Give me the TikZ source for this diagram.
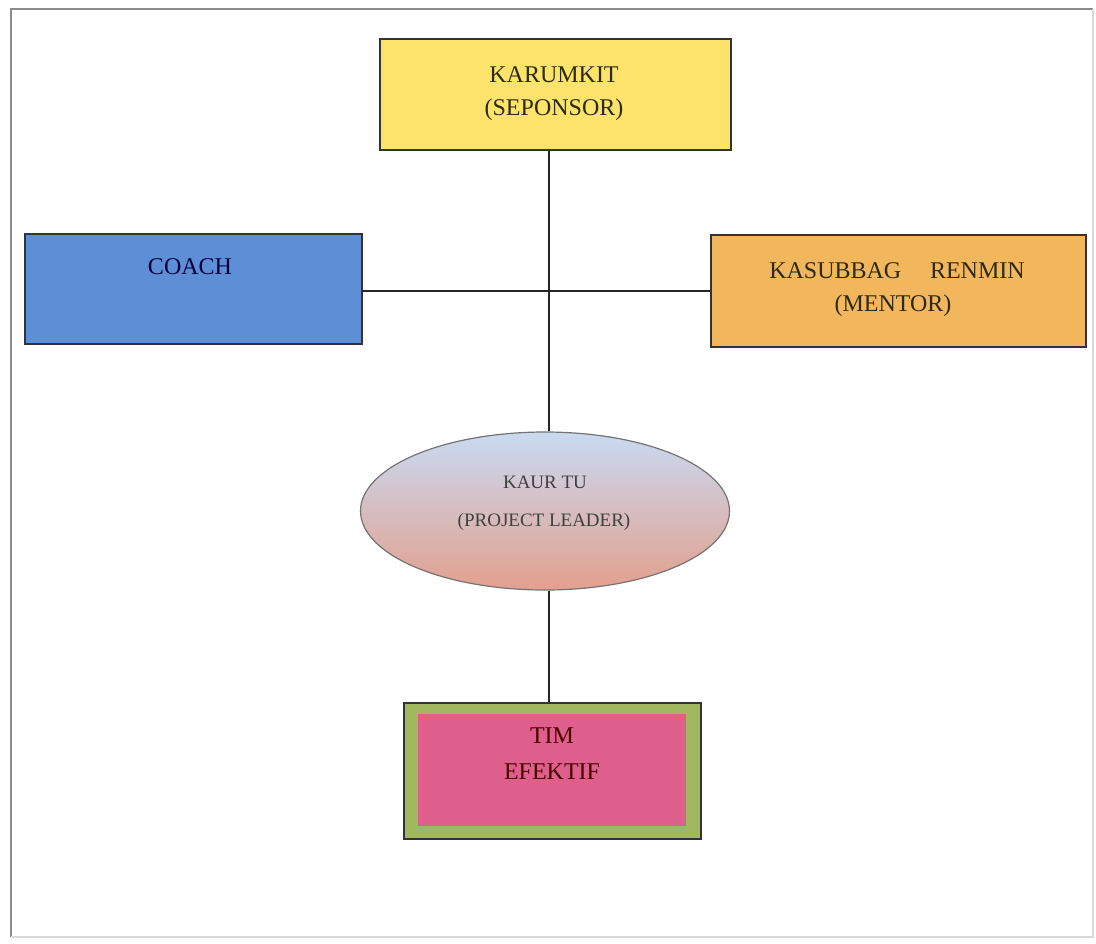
\documentclass[tikz,border=0pt]{standalone}
\usepackage{fontspec}
\setmainfont{Liberation Serif}
\usetikzlibrary{shapes.geometric}
\definecolor{yel}{HTML}{FBE36C}
\definecolor{blu}{HTML}{5E8FD6}
\definecolor{ora}{HTML}{F2B65C}
\definecolor{olv}{HTML}{A2B860}
\definecolor{pnk}{HTML}{DE5F8C}
\definecolor{etop}{HTML}{C9DAF2}
\definecolor{ebot}{HTML}{E3A08E}
\definecolor{txt}{HTML}{2E2A10}
\begin{document}
\begin{tikzpicture}[x=0.5pt,y=-0.5pt,
  box/.style={draw=black!80,line width=0.9pt,inner sep=0pt,anchor=north west},
  lbl/.style={font=\fontsize{12}{14}\selectfont,text=txt},
  conn/.style={draw=black!85,line width=1pt}]
\useasboundingbox (0,0) rectangle (1096,943);
\draw[black!45,line width=1pt] (11,937) -- (11,9) -- (1093,9);
\draw[black!15,line width=0.6pt] (1093,9) -- (1093,937) -- (11,937);
% boxes
\node[box,fill=yel,minimum width=175.5pt,minimum height=55.5pt] (top) at (379,38) {};
\node[lbl] (topt) at (554,75) {KARUMKIT};
\node[lbl] (topt2) at (554,110) {(SEPONSOR)};
\node[box,fill=blu,minimum width=168.5pt,minimum height=55pt] (coach) at (24,233) {};
\node[lbl,text=black!75!blue] (coacht) at (190,267) {COACH};
\node[box,fill=ora,minimum width=187.5pt,minimum height=56pt] (mentor) at (710,234) {};
\node[lbl] (mentort) at (897,271) {KASUBBAG\hspace{1.2em}RENMIN};
\node[lbl] (mentort2) at (893,306) {(MENTOR)};
\node[draw=black!55,line width=0.6pt,ellipse,minimum width=184.5pt,minimum height=79pt,
  top color=etop,bottom color=ebot,middle color=etop!50!ebot] (kaur) at (545,511) {};
\node[font=\fontsize{9.5}{11}\selectfont,text=black!75] (kaurt) at (545,482) {KAUR TU};
\node[font=\fontsize{9.5}{11}\selectfont,text=black!75] (kaurt2) at (544,522) {(PROJECT LEADER)};
\node[box,fill=olv,minimum width=148.5pt,minimum height=68pt] (tim) at (403,702) {};
\node[inner sep=0pt,anchor=north west,fill=pnk,minimum width=134pt,minimum height=56pt] (timin) at (418,714) {};
\node[lbl,text=black!60!red!70!black] (timt) at (552,736) {TIM};
\node[lbl,text=black!60!red!70!black] (timt2) at (552,772) {EFEKTIF};
% connectors
\coordinate (j) at (549,291);
\draw[conn] (top.south -| j) -- (kaur.north -| j);
\draw[conn] (coach.east |- j) -- (mentor.west |- j);
\draw[conn] (kaur.south -| j) -- (tim.north -| j);
\end{tikzpicture}
\end{document}
